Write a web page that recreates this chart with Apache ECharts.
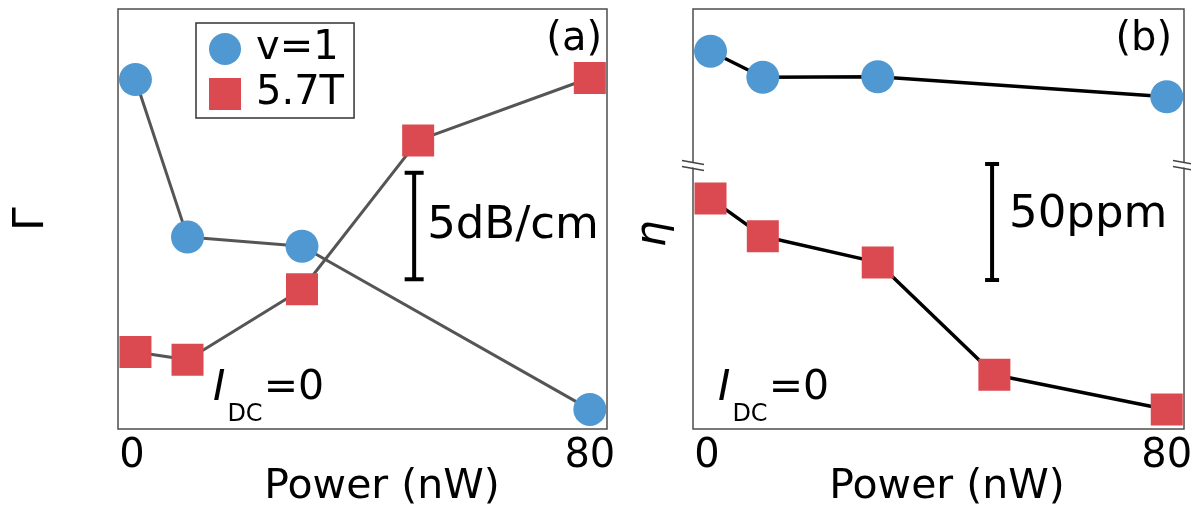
<!DOCTYPE html>
<html>
<head>
<meta charset="utf-8">
<title>Power dependence of Γ and η</title>
<script src="https://cdn.jsdelivr.net/npm/echarts@6/dist/echarts.min.js"></script>
<style>
  html, body { margin: 0; padding: 0; background: #ffffff; }
  #chart { width: 1191px; height: 514px; }
</style>
</head>
<body>
<div id="chart"></div>
<script>
// Microwave power (nW) of each measurement
const powerV1 = [0.6, 9.7, 29.7, 80];
const power57T = [0.6, 9.7, 29.7, 50, 80];

// Panel (a): attenuation Γ in dB/cm (arbitrary offset, no absolute ticks)
const gammaV1 = [16.41, 9.01, 8.58, 0.92];
const gamma57T = [3.62, 3.25, 6.56, 13.55, 16.48];

// Panel (b): η in ppm (arbitrary offset); the ν=1 branch lies above an axis break
const etaV1 = [262.8, 251.6, 251.8, 243.2];
const eta57T = [99.3, 83.1, 71.8, 23.4, 8.4];
const etaBreak = [114.4, 214.4];

// Tick labels on the power axis
const powerTicks = [0, 80];

// Scale bars: [power position, lower value, upper value]
const gammaScaleBar = [49.3, 7.03, 12.03];
const etaScaleBar = [49.6, 64.2, 114.2];

const FONT = 'DejaVu Sans';
const BLUE = '#4f98d1';
const RED = '#da4a50';

const zip = (xs, ys) => xs.map((x, i) => [x, ys[i]]);

function powerAxis(gridIndex, namePad) {
  return {
    type: 'value', gridIndex, min: -2.45, max: 83,
    axisLine: { show: false }, axisTick: { show: false }, splitLine: { show: false },
    axisLabel: { customValues: powerTicks, fontFamily: FONT, fontSize: 40, color: '#000', margin: 8 },
    name: 'Power (nW)', nameLocation: 'middle', nameGap: 38, nameMoveOverlap: false,
    nameTextStyle: { fontFamily: FONT, fontSize: 41, color: '#000', padding: [0, 0, 0, namePad] }
  };
}

function dataSeries(name, axis, xs, ys, symbol, size, color, lineColor, lineWidth) {
  return {
    type: 'line', name, xAxisIndex: axis, yAxisIndex: axis,
    data: zip(xs, ys), symbol, symbolSize: size, clip: false,
    itemStyle: { color }, lineStyle: { color: lineColor, width: lineWidth },
    emphasis: { disabled: true }, z: 3
  };
}

function scaleBar(axis, bar, label, capHalf, dx, dy) {
  return {
    type: 'custom', xAxisIndex: axis, yAxisIndex: axis, data: [bar],
    encode: { x: 0, y: [1, 2] }, clip: false, silent: true, z: 4,
    renderItem(params, api) {
      const lo = api.coord([api.value(0), api.value(1)]);
      const hi = api.coord([api.value(0), api.value(2)]);
      const st = { stroke: '#000', lineWidth: 4 };
      return {
        type: 'group',
        children: [
          { type: 'line', shape: { x1: lo[0], y1: lo[1], x2: hi[0], y2: hi[1] }, style: st },
          { type: 'line', shape: { x1: lo[0] - capHalf, y1: lo[1], x2: lo[0] + capHalf, y2: lo[1] }, style: st },
          { type: 'line', shape: { x1: hi[0] - capHalf, y1: hi[1], x2: hi[0] + capHalf, y2: hi[1] }, style: st },
          {
            type: 'text', x: lo[0] + dx, y: (lo[1] + hi[1]) / 2 + dy,
            style: { text: label, fontFamily: FONT, fontSize: 45, fill: '#000', align: 'left', verticalAlign: 'middle' }
          }
        ]
      };
    }
  };
}

// "//" marks where the η axis is broken, drawn on both frame edges
const breakMarks = {
  type: 'custom', xAxisIndex: 1, yAxisIndex: 1, data: [[0, etaBreak[0]]],
  encode: { x: 0, y: 1 }, clip: false, silent: true, z: 10,
  renderItem(params, api) {
    const cs = params.coordSys;
    const y = api.coord([api.value(0), api.value(1)])[1];
    const kids = [];
    [cs.x, cs.x + cs.width].forEach(ex => {
      kids.push({ type: 'polygon', shape: { points: [[ex - 11, y - 3], [ex + 11, y + 1], [ex + 11, y + 6], [ex - 11, y + 2]] },
                  style: { fill: '#fff' } });
      kids.push({ type: 'line', shape: { x1: ex - 11, y1: y - 3, x2: ex + 11, y2: y + 1 }, style: { stroke: '#444', lineWidth: 1.5 } });
      kids.push({ type: 'line', shape: { x1: ex - 11, y1: y + 3, x2: ex + 11, y2: y + 7 }, style: { stroke: '#444', lineWidth: 1.5 } });
    });
    return { type: 'group', children: kids };
  }
};

function currentLabel(x) {
  return {
    type: 'text', x, y: 368, z: 20,
    style: {
      text: '{i|I}{s|DC}{n|=0}', align: 'left', verticalAlign: 'top', fill: '#000',
      rich: {
        i: { fontFamily: FONT, fontStyle: 'italic', fontSize: 42, lineHeight: 42, verticalAlign: 'top' },
        s: { fontFamily: FONT, fontSize: 24, lineHeight: 24, padding: [35, 0, 0, 2], verticalAlign: 'top' },
        n: { fontFamily: FONT, fontSize: 41, lineHeight: 42, verticalAlign: 'top', padding: [0, 0, 0, 1] }
      }
    }
  };
}

const chart = echarts.init(document.getElementById('chart'), null, { renderer: 'canvas' });

chart.setOption({
  animation: false,
  backgroundColor: '#fff',
  grid: [
    { left: 118, top: 9, width: 489, height: 420, show: true, borderColor: '#4d4d4d', borderWidth: 1.5,
      backgroundColor: 'transparent', outerBoundsMode: 'none' },
    { left: 693, top: 9, width: 491, height: 420, show: true, borderColor: '#4d4d4d', borderWidth: 1.5,
      backgroundColor: 'transparent', outerBoundsMode: 'none' }
  ],
  xAxis: [powerAxis(0, 39), powerAxis(1, 17)],
  yAxis: [
    {
      type: 'value', gridIndex: 0, min: 0, max: 19.72,
      axisLine: { show: false }, axisTick: { show: false }, axisLabel: { show: false }, splitLine: { show: false },
      name: 'Γ', nameLocation: 'middle', nameGap: 65, nameMoveOverlap: false,
      nameTextStyle: { fontFamily: FONT, fontSize: 42, color: '#000' }
    },
    {
      type: 'value', gridIndex: 1, min: 0, max: 281,
      breaks: [{ start: etaBreak[0], end: etaBreak[1], gap: 0 }],
      breakArea: { show: false },
      axisLine: { show: false }, axisTick: { show: false }, axisLabel: { show: false }, splitLine: { show: false },
      name: 'η', nameLocation: 'middle', nameGap: 18, nameMoveOverlap: false,
      nameTextStyle: { fontFamily: FONT, fontStyle: 'italic', fontSize: 42, color: '#000', padding: [0, 30, 0, 0] }
    }
  ],
  legend: {
    left: 196, top: 23, orient: 'vertical', selectedMode: false,
    data: [{ name: 'v=1', icon: 'circle' }, { name: '5.7T', icon: 'rect' }],
    itemWidth: 32, itemHeight: 32, itemGap: 5,
    padding: [6, 10, 4, 13],
    borderColor: '#333', borderWidth: 1.5, backgroundColor: '#fff',
    itemStyle: { borderWidth: 0 },
    textStyle: { fontFamily: FONT, fontSize: 40, color: '#000', padding: [0, 0, 0, 10] }
  },
  series: [
    dataSeries('v=1', 0, powerV1, gammaV1, 'circle', 33, BLUE, '#555', 3),
    dataSeries('5.7T', 0, power57T, gamma57T, 'rect', 32, RED, '#555', 3),
    dataSeries('v=1', 1, powerV1, etaV1, 'circle', 33, BLUE, '#000', 3.5),
    dataSeries('5.7T', 1, power57T, eta57T, 'rect', 32, RED, '#000', 3.5),
    scaleBar(0, gammaScaleBar, '5dB/cm', 9.5, 13, 0),
    scaleBar(1, etaScaleBar, '50ppm', 7, 17, -7),
    breakMarks
  ],
  graphic: [
    { type: 'text', x: 602, y: 40, z: 20,
      style: { text: '(a)', fontFamily: FONT, fontSize: 40, fill: '#000', align: 'right', verticalAlign: 'middle' } },
    { type: 'text', x: 1172, y: 40, z: 20,
      style: { text: '(b)', fontFamily: FONT, fontSize: 40, fill: '#000', align: 'right', verticalAlign: 'middle' } },
    currentLabel(213),
    currentLabel(718)
  ]
});
</script>
</body>
</html>
